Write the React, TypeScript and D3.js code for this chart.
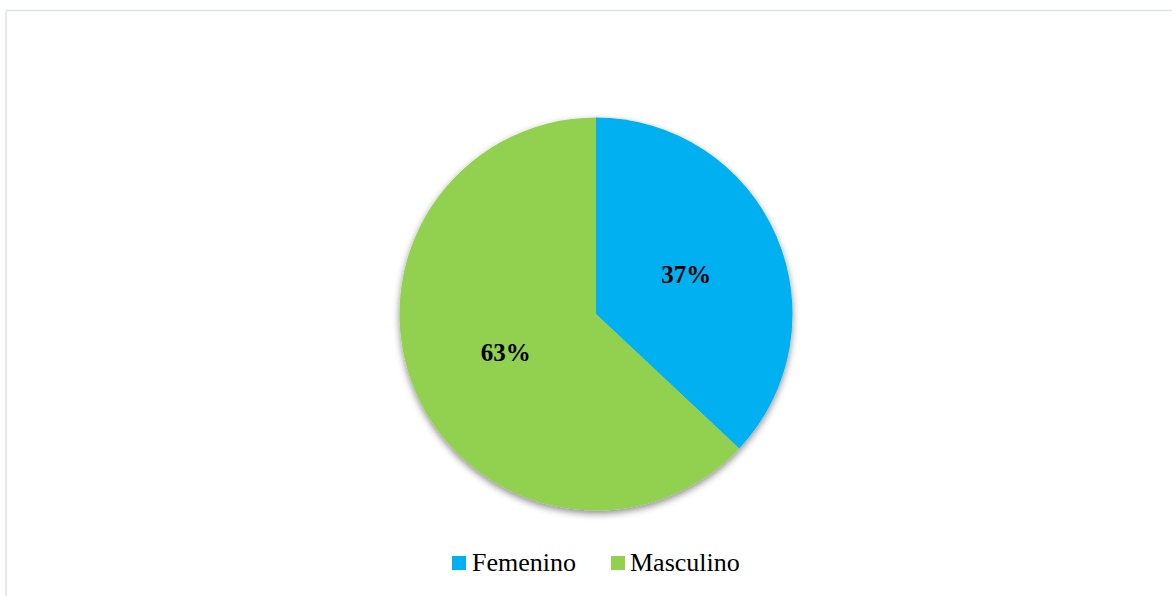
import React from "react";
import * as d3 from "d3";

const categories = ["Femenino", "Masculino"];
const values = [37, 63];
const labels = ["37%", "63%"];
const colors = ["#00B0F0", "#92D050"];

const W = 1172;
const H = 596;

export default function App() {
  const cx = 596;
  const cy = 314;
  const r = 196.5;
  const pie = d3.pie<number>().sort(null).value((d) => d);
  const arcs = pie(values);
  const arcGen = d3.arc<d3.PieArcDatum<number>>().innerRadius(0).outerRadius(r);
  const labelArc = d3.arc<d3.PieArcDatum<number>>().innerRadius(r * 0.5).outerRadius(r * 0.5);

  const legendItems = [
    { sq: 452, tx: 472 },
    { sq: 611, tx: 630 },
  ];

  return (
    <svg
      width={W}
      height={H}
      style={{ position: "absolute", left: 0, top: 0, background: "#fff" }}
    >
      <defs>
        <filter id="shadow" x="-20%" y="-20%" width="140%" height="140%">
          <feDropShadow dx="0" dy="3" stdDeviation="3.5" floodColor="#000" floodOpacity="0.45" />
        </filter>
      </defs>
      <rect x={0} y={0} width={W} height={H} fill="#fff" />
      <line x1={6} y1={10.5} x2={W} y2={10.5} stroke="#dfe2e7" strokeWidth={1.5} />
      <line x1={6} y1={10.5} x2={6} y2={H} stroke="#dfe2e7" strokeWidth={1.5} />
      <g transform={`translate(${cx},${cy})`}>
        <g filter="url(#shadow)">
          {arcs.map((a, i) => (
            <path key={categories[i]} d={arcGen(a) || ""} fill={colors[i]} />
          ))}
        </g>
        {arcs.map((a, i) => {
          const [lx, ly] = labelArc.centroid(a);
          return (
            <text
              key={"l" + i}
              x={lx}
              y={ly + 8}
              textAnchor="middle"
              fontFamily="'Liberation Serif', 'Times New Roman', serif"
              fontWeight="bold"
              fontSize={25}
              fill="#000"
            >
              {labels[i]}
            </text>
          );
        })}
      </g>
      {categories.map((c, i) => (
        <g key={"lg" + c}>
          <rect x={legendItems[i].sq} y={556} width={14} height={14} fill={colors[i]} />
          <text
            x={legendItems[i].tx}
            y={570.5}
            fontFamily="'Liberation Serif', 'Times New Roman', serif"
            fontSize={26}
            fill="#000"
          >
            {c}
          </text>
        </g>
      ))}
    </svg>
  );
}
